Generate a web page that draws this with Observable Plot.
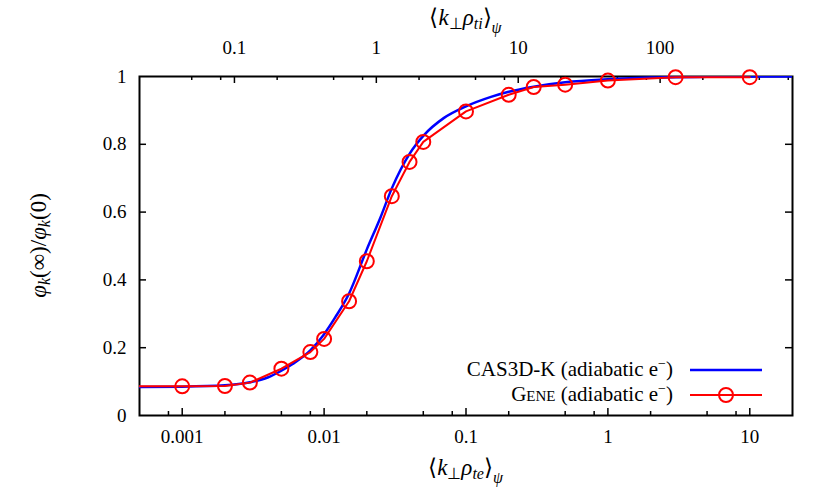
<!DOCTYPE html>
<html><head><meta charset="utf-8">
<script src="https://cdn.jsdelivr.net/npm/d3@7"></script>
<script src="https://cdn.jsdelivr.net/npm/@observablehq/plot@0.6"></script>
<style>
body{margin:0;background:#fff}
</style>
</head><body><div id="chart"></div>
<script>
// CAS3D-K (adiabatic e-) curve
const casX = [0.0005, 0.001, 0.002, 0.003, 0.004, 0.005, 0.006, 0.008, 0.01, 0.012, 0.015, 0.02, 0.025, 0.03, 0.04, 0.05, 0.07, 0.1, 0.15, 0.2, 0.3, 0.5, 1, 2, 5, 20];
const casY = [0.084, 0.085, 0.089, 0.098, 0.112, 0.132, 0.152, 0.192, 0.24, 0.29, 0.36, 0.49, 0.585, 0.67, 0.772, 0.825, 0.878, 0.912, 0.94, 0.955, 0.97, 0.983, 0.992, 0.997, 0.999, 1.0];
// GENE (adiabatic e-) points
const geneX = [0.0001, 0.001, 0.002, 0.003, 0.005, 0.008, 0.01, 0.015, 0.02, 0.03, 0.04, 0.05, 0.1, 0.2, 0.3, 0.5, 1, 3, 10];
const geneY = [0.086, 0.086, 0.087, 0.097, 0.138, 0.187, 0.226, 0.337, 0.455, 0.647, 0.748, 0.807, 0.897, 0.946, 0.969, 0.976, 0.988, 0.998, 0.998];
// ticks
const yTicks = [0, 0.2, 0.4, 0.6, 0.8, 1];
const bottomTicks = [0.001, 0.01, 0.1, 1, 10];
const bottomMinor = [0.0008, 0.002, 0.005, 0.008, 0.02, 0.05, 0.08, 0.2, 0.5, 0.8, 2, 5, 8];
const topTicks = [0.1, 1, 10, 100];
const topMinor = [0.05, 0.08, 0.2, 0.5, 0.8, 2, 5, 8, 20, 50, 80, 200, 500, 800];
const rhoRatio = 42.85; // rho_ti / rho_te

const cas = casX.map((x, i) => ({x, y: casY[i]}));
const gene = geneX.map((x, i) => ({x, y: geneY[i]}));
const xDomain = [0.0005, 20];

const W = 830, H = 498, mL = 139, mR = 38, mT = 76, mB = 83;
const innerW = W - mL - mR, innerH = H - mT - mB;
const fmt = d => d3.format("~g")(+d.toPrecision(3));
const fam = '"Liberation Serif", serif';

const plot = Plot.plot({
  width: W, height: H,
  marginLeft: mL, marginRight: mR, marginTop: mT, marginBottom: mB,
  style: {background: "white", color: "black", fontFamily: "Liberation Serif"},
  x: {type: "log", domain: xDomain},
  y: {domain: [0, 1]},
  marks: [
    Plot.axisX(bottomTicks, {anchor: "bottom", tickSize: 0, tickPadding: 14, tickFormat: fmt, label: null, fontSize: 19}),
    Plot.text(topTicks, {x: d => d / rhoRatio, text: d => fmt(d), frameAnchor: "top", dy: -29, lineAnchor: "middle", fontSize: 19}),
    Plot.axisY(yTicks, {anchor: "left", tickSize: 0, tickPadding: 13, tickFormat: fmt, label: null, fontSize: 19}),
    // inward ticks
    Plot.ruleX(bottomTicks, {x: d => d, insetTop: innerH - 7, strokeWidth: 1.5}),
    Plot.ruleX(bottomMinor, {x: d => d, insetTop: innerH - 4, strokeWidth: 1.5}),
    Plot.ruleX(topTicks, {x: d => d / rhoRatio, insetBottom: innerH - 7, strokeWidth: 1.5}),
    Plot.ruleX(topMinor, {x: d => d / rhoRatio, insetBottom: innerH - 4, strokeWidth: 1.5}),
    Plot.ruleY(yTicks.slice(1, -1), {y: d => d, insetRight: innerW - 7, strokeWidth: 1.5}),
    Plot.ruleY(yTicks.slice(1, -1), {y: d => d, insetLeft: innerW - 7, strokeWidth: 1.5}),
    Plot.frame({stroke: "black", strokeWidth: 2}),
    Plot.line(cas, {x: "x", y: "y", stroke: "#0000ff", strokeWidth: 2.5, curve: "monotone-x", clip: true}),
    Plot.line(gene, {x: "x", y: "y", stroke: "#ff0000", strokeWidth: 2, clip: true}),
    Plot.dot(gene.filter(d => d.x >= xDomain[0]), {x: "x", y: "y", r: 7, stroke: "#ff0000", strokeWidth: 2, fill: "none"})
  ]
});

const svg = d3.select(plot);

function mathLabel(g, parts) {
  parts.forEach(p => {
    const t = g.append("tspan").text(p.t);
    if (p.it) t.style("font-style", "italic");
    if (p.sub) t.style("font-size", p.sub + "px");
    if (p.dy) t.attr("dy", p.dy);
  });
}

// bottom title
const bt = svg.append("text").attr("x", mL + innerW / 2).attr("y", 475).attr("text-anchor", "middle")
  .style("font-size", "23px");
mathLabel(bt, [
  {t: "\u27E8"}, {t: "k", it: true}, {t: "\u22A5", sub: 16, dy: 4}, {t: "\u03C1", it: true, dy: -4},
  {t: "te", it: true, sub: 16, dy: 4}, {t: "\u27E9", dy: -4}, {t: "\u03C8", it: true, sub: 16, dy: 8}
]);
// top title
const tt = svg.append("text").attr("x", mL + innerW / 2).attr("y", 25).attr("text-anchor", "middle")
  .style("font-size", "23px");
mathLabel(tt, [
  {t: "\u27E8"}, {t: "k", it: true}, {t: "\u22A5", sub: 16, dy: 4}, {t: "\u03C1", it: true, dy: -4},
  {t: "ti", it: true, sub: 16, dy: 4}, {t: "\u27E9", dy: -4}, {t: "\u03C8", it: true, sub: 16, dy: 8}
]);
// y title
const yt = svg.append("text").attr("transform", `translate(46,${mT + innerH / 2}) rotate(-90)`)
  .attr("text-anchor", "middle").style("font-size", "23px");
mathLabel(yt, [
  {t: "\u03C6", it: true}, {t: "k", it: true, sub: 16, dy: 4}, {t: "(\u221E)/", dy: -4},
  {t: "\u03C6", it: true}, {t: "k", it: true, sub: 16, dy: 4}, {t: "(0)", dy: -4}
]);

// legend
const lg = svg.append("g");
const rows = [
  {name: "CAS3D-K", color: "#0000ff", w: 2.5, dot: false, y: 370},
  {name: "Gene", color: "#ff0000", w: 2, dot: true, y: 395}
];
rows.forEach(r => {
  const t = lg.append("text").attr("x", 673).attr("y", r.y + 6).attr("text-anchor", "end").style("font-size", "21px");
  const n = t.append("tspan").text(r.name);
  if (r.name === "Gene") n.style("font-variant", "small-caps");
  t.append("tspan").text(" (adiabatic e");
  t.append("tspan").text("\u2212").style("font-size", "14px").attr("dy", -8);
  t.append("tspan").text(")").attr("dy", 8);
  lg.append("line").attr("x1", 690).attr("x2", 762).attr("y1", r.y).attr("y2", r.y)
    .attr("stroke", r.color).attr("stroke-width", r.w);
  if (r.dot) lg.append("circle").attr("cx", 726).attr("cy", r.y).attr("r", 7)
    .attr("fill", "none").attr("stroke", r.color).attr("stroke-width", 2);
});

// serif font on all texts
svg.selectAll("text").style("font-family", fam);

document.getElementById("chart").appendChild(plot);
</script></body></html>
